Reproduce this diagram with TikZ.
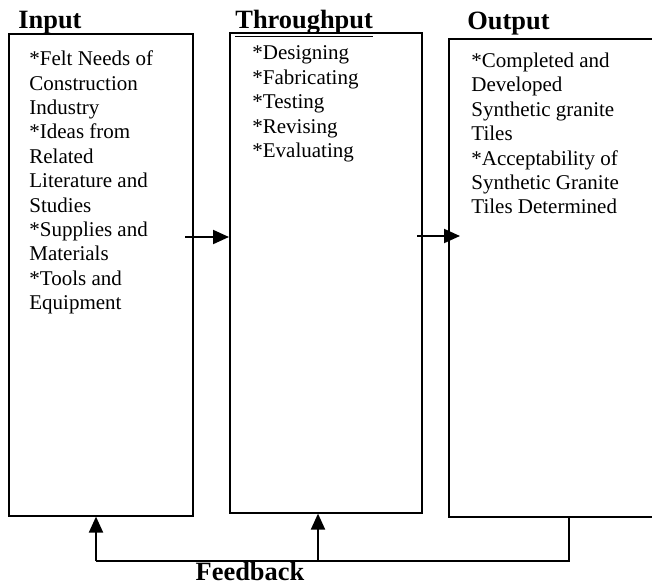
\documentclass[tikz,border=0pt]{standalone}
\usepackage{fontspec}
\setmainfont{Liberation Serif}
\usetikzlibrary{arrows.meta}

\begin{document}
\begin{tikzpicture}[
        x=0.5pt, y=-0.5pt,
        box/.style={draw, thick, line width=0.8pt, minimum width=#1, inner sep=0pt, anchor=north west},
        body/.style={align=left, inner sep=0pt, anchor=north west,
            font=\fontsize{10.5}{12.2}\selectfont},
        head/.style={inner sep=0pt, anchor=base west,
            font=\fontsize{13.2}{15}\selectfont\bfseries},
        line/.style={line width=1pt},
        flow/.style={line width=1pt, -{Triangle[length=8pt,width=7pt]}},
    ]
    \useasboundingbox (0,0) rectangle (652,584);

    % boxes
    \node[box=92pt, minimum height=241pt] (in) at (8,33) {};
    \node[box=96pt, minimum height=240pt] (thr) at (229,32) {};
    \node[inner sep=0pt, minimum width=101.5pt, minimum height=238.5pt,
          anchor=north west] (out) at (449,39) {};
    \draw[line width=0.8pt] (out.north east) -- (out.north west)
                            -- (out.south west) -- (out.south east);

    % headings
    \node[head] (inhead) at (18,28) {Input};
    \node[head] (thrhead) at (235,28) {\underline{Throughput}};
    \node[head] (outhead) at (467,29) {Output};

    % contents
    \node[body] (intext) at (29,50.5) {*Felt Needs of\\Construction\\Industry\\
        *Ideas from\\Related\\Literature and\\Studies\\*Supplies and\\
        Materials\\*Tools and\\Equipment};
    \node[body] (thrtext) at (252,45.5) {*Designing\\*Fabricating\\*Testing\\
        *Revising\\*Evaluating};
    \node[body] (outtext) at (471,52.5) {*Completed and\\Developed\\
        Synthetic granite\\Tiles\\*Acceptability of\\Synthetic Granite\\
        Tiles Determined};

    % forward arrows
    \coordinate (a1) at (185,237);
    \coordinate (a2) at (417,236);
    \coordinate (a2e) at (460,236);
    \draw[flow] (a1) -- (a1 -| thr.west);
    \draw[flow] (a2) -- (a2e);

    % feedback
    \coordinate (fbR) at (569,561);
    \coordinate (fbL) at (96,561);
    \coordinate (fbM) at (318,561);
    \draw[line] (fbR |- out.south) -- (fbR) -- (fbL);
    \draw[flow] (fbL) -- (fbL |- in.south);
    \draw[flow] (fbM) -- (fbM |- thr.south);
    \node[head, anchor=base] (fbtext) at (250,580) {Feedback};
\end{tikzpicture}
\end{document}
